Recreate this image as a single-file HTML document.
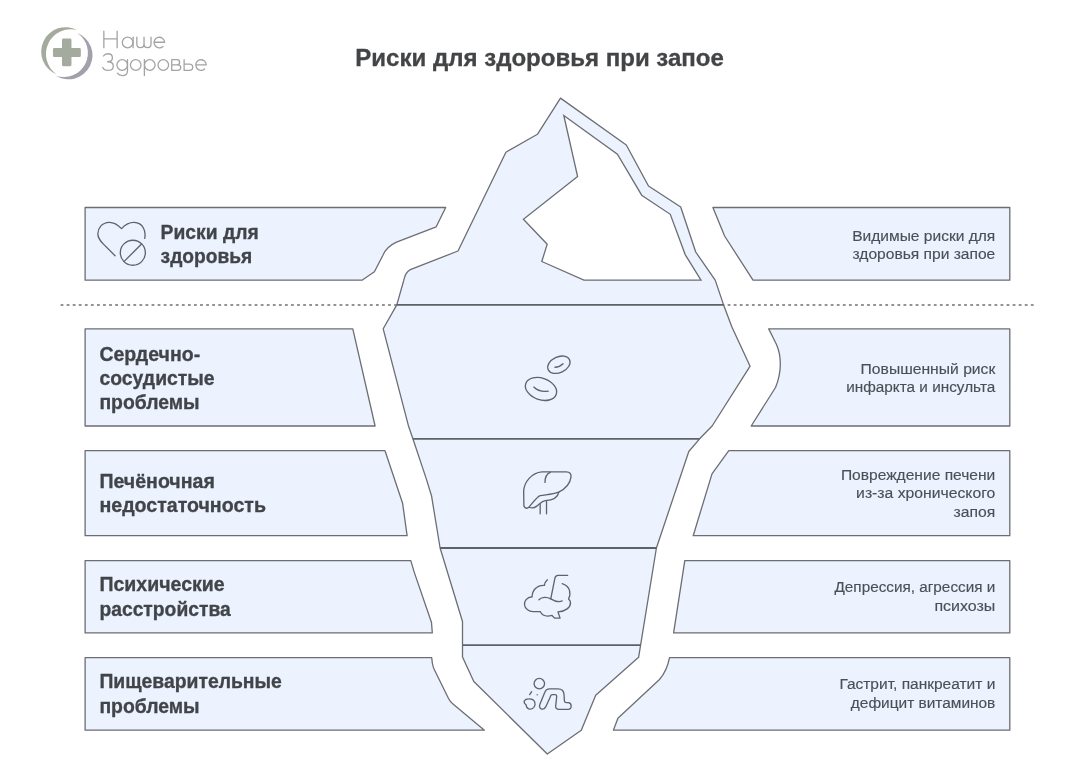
<!DOCTYPE html>
<html lang="ru">
<head>
<meta charset="utf-8">
<title>Риски для здоровья при запое</title>
<style>
  html, body { margin: 0; padding: 0; background: #ffffff; }
  body { width: 1066px; height: 768px; overflow: hidden; font-family: "Liberation Sans", sans-serif; }
  svg { display: block; position: absolute; left: 0; top: 0; will-change: transform; opacity: 0.9999; filter: blur(0.3px); }
  .sh { fill: #ecf2fe; stroke: #6c6e73; stroke-width: 1.3; stroke-linejoin: round; }
  .ln { fill: none; stroke: #5e6267; stroke-width: 1.8; }
  .ic { fill: none; stroke: #5f636a; stroke-width: 15.5; stroke-linecap: round; stroke-linejoin: round; }
  text { font-family: "Liberation Sans", sans-serif; }
  .title { font-weight: bold; font-size: 24.6px; fill: #434446; stroke: #434446; stroke-width: 0.3px; }
  .lb { font-weight: bold; font-size: 19.6px; fill: #414449; stroke: #414449; stroke-width: 0.3px; }
  .ds { font-size: 15.5px; fill: #4b4f56; stroke: #4b4f56; stroke-width: 0.15px; text-anchor: end; }
  .logo { font-size: 22px; fill: #9a9a9a; }
</style>
</head>
<body>
<svg width="1066" height="768" viewBox="0 0 1066 768">

  <!-- ===== water line (dotted) ===== -->
  <line x1="60.6" y1="305" x2="1035" y2="305" stroke="#929395" stroke-width="2" stroke-dasharray="2.8 3.264"/>

  <!-- ===== iceberg ===== -->
  <!-- full silhouette -->
  <path class="sh" d="M560.5 98.1 L537.4 134.3 L505.9 152.2 L458 251 L410.3 269.6 Q405.5 272 403.8 280.2 L396.8 304.9 L383.2 328.8 L408.4 425.7 L412.9 438.8 L426.3 478.9 L431.5 495.7 L440.1 548 L462.5 621.5 L462.5 657 L473.8 681.5 L547.3 754 L581.3 730.2 L595.7 695.2 L638.6 657.3 L640.6 645.2 L656.4 548 L688.8 451.5 L699.6 438.8 L712.1 426 L750.1 366.2 L731.9 327.1 L723.6 304.9 L715.2 280.1 L695.7 252 L680.7 207 L648.5 186 L626.3 145 Z"/>
  <!-- white highlight -->
  <path d="M563.8 115.5 L577.6 176.6 L523.4 219.3 L547.2 244.2 L541.8 261.5 L583.9 280.1 L701 280.1 L685.2 254.6 L670.3 214.3 L641.7 195.2 L617.4 154.2 Z" fill="#ffffff" stroke="#6c6e73" stroke-width="1.3" stroke-linejoin="miter"/>
  <!-- separators -->
  <line class="ln" x1="396.8" y1="304.9" x2="723.6" y2="304.9"/>
  <line class="ln" x1="412.9" y1="438.8" x2="699.6" y2="438.8"/>
  <line class="ln" x1="440.1" y1="548" x2="656.4" y2="548"/>
  <line class="ln" x1="462.5" y1="645.2" x2="640.6" y2="645.2"/>

  <!-- ===== left boxes ===== -->
  <path class="sh" d="M85.1 207.5 L445.7 207.5 L436.2 226.8 L396.5 242.2 Q386 247 382.7 255.7 L374.4 271.8 L362 280.2 L85.1 280.2 Z"/>
  <path class="sh" d="M85.1 328.9 L352.8 328.9 L375.1 426 L85.1 426 Z"/>
  <path class="sh" d="M85.1 450.7 L385 450.7 L402.6 503.2 L407.1 535.7 L85.1 535.7 Z"/>
  <path class="sh" d="M85.1 560.6 L410.8 560.6 L414.2 572.1 L431.5 622.5 L432.3 632.9 L85.1 632.9 Z"/>
  <path class="sh" d="M85.1 657.7 L431.7 657.7 L432.4 663.5 Q433 667 434.5 670 L448.4 698.2 Q450 701.5 453 704 L484.4 730.2 L85.1 730.2 Z"/>

  <!-- ===== right boxes ===== -->
  <path class="sh" d="M712.9 207.5 L1009.8 207.5 L1009.8 280.2 L753 280.2 L724.6 236 Z"/>
  <path class="sh" d="M768.7 328.9 L1009.8 328.9 L1009.8 426 L751.2 426 L775.5 387.5 C782 372 781.5 356 776.5 344.5 Z"/>
  <path class="sh" d="M728.8 450.7 L1009.8 450.7 L1009.8 535.7 L693.2 535.7 L712 473.9 Z"/>
  <path class="sh" d="M684.8 560.6 L1009.8 560.6 L1009.8 632.9 L673.6 632.9 Z"/>
  <path class="sh" d="M669.5 657.7 L1009.8 657.7 L1009.8 730.2 L613.4 730.2 L617.9 718.3 L659.5 679.5 Q667 671 669.5 657.7 Z"/>

  <!-- ===== logo ===== -->
  <g transform="translate(35 20) scale(0.0885)">
    <!-- green crescent -->
    <path d="M477.4 113.8 A276.3 276.3 0 0 0 96.4 239 A276.3 276.3 0 0 0 241.7 612.8 A280.3 280.3 0 0 1 477.4 113.8 Z" fill="#a5aa9f"/>
    <!-- violet crescent -->
    <path d="M477.5 147 A270.8 270.8 0 0 1 621.1 521 A270.8 270.8 0 0 1 235.3 628.7 A271.7 271.7 0 0 0 477.5 147 Z" fill="#a2a1ab"/>
    <!-- cross -->
    <path d="M320 210 H397 Q412 210 412 225 V315 H503 Q518 315 518 330 V403 Q518 418 503 418 H412 V507 Q412 522 397 522 H320 Q305 522 305 507 V418 H218 Q203 418 203 403 V330 Q203 315 218 315 H305 V225 Q305 210 320 210 Z" fill="#a5aa9f"/>
  </g>
  <!-- logo wordmark (thin geometric strokes) -->
  <g transform="translate(98 22) scale(0.11257)" fill="none" stroke="#a3a3a3" stroke-width="11.5" stroke-linecap="round" stroke-linejoin="round">
    <!-- Наше -->
    <path d="M52 82 V228 M170 82 V228 M52 150 H170"/>
    <circle cx="263" cy="182" r="47"/><path d="M312 135 V228"/>
    <path d="M345 135 V196 Q345 228 377 228 Q409 228 409 196 V135 M409 196 Q409 228 440 228 Q471 228 471 196 V135"/>
    <path d="M499 180 H592 A47 47 0 1 0 577 217"/>
    <!-- Здоровье -->
    <path d="M48 302 Q60 282 90 282 Q128 282 128 318 Q128 353 86 353 Q136 353 136 392 Q136 430 88 430 Q54 430 42 404"/>
    <circle cx="215" cy="382" r="47"/><path d="M262 335 V432 Q262 476 216 476 Q186 476 172 455"/>
    <circle cx="335" cy="382" r="47"/>
    <path d="M412 335 V476"/><circle cx="460" cy="382" r="47"/>
    <circle cx="580" cy="382" r="47"/>
    <path d="M655 335 V430 M655 335 H701 Q725 335 725 357 Q725 380 701 380 H655 M701 380 H707 Q735 380 735 405 Q735 430 707 430 H655"/>
    <path d="M765 335 V430 H812 Q841 430 841 402 Q841 375 812 375 H765"/>
    <path d="M869 380 H962 A47 47 0 1 0 947 417"/>
  </g>

  <!-- ===== icon: heart + no sign ===== -->
  <g class="ic" transform="translate(85 210) scale(0.084656)">
    <path d="M705 335 C722 255 690 150 580 147 C520 146 470 180 432 220 C390 178 340 144 285 146 C200 150 150 215 152 285 C153 335 185 370 215 400 L355 540"/>
    <circle cx="565" cy="505" r="148"/>
    <path d="M463 607 L668 402"/>
  </g>

  <!-- ===== icon: blood cells ===== -->
  <g class="ic" transform="translate(508 345) scale(0.084656)">
    <ellipse cx="601" cy="233" rx="139" ry="93" transform="rotate(-25 601 233)"/>
    <path d="M555 263 Q610 262 650 222"/>
    <ellipse cx="390" cy="519" rx="191" ry="127" transform="rotate(20 390 519)"/>
    <path d="M305 497 Q365 560 475 546"/>
  </g>

  <!-- ===== icon: liver ===== -->
  <g class="ic" transform="translate(508 460) scale(0.084656)">
    <path d="M400 140 H690 Q748 142 745 200 C735 270 680 340 600 380 C520 410 440 408 380 420 C345 432 320 470 250 555 Q215 590 188 545 L185 370 C190 260 280 150 400 140 Z"/>
    <path d="M600 380 C590 440 530 475 440 480 C400 485 375 520 340 545 C310 568 280 572 250 558"/>
    <path d="M500 145 Q436 170 437 265"/>
    <path d="M380 520 V635 M455 490 V635"/>
  </g>

  <!-- ===== icon: brain ===== -->
  <g class="ic" transform="translate(508 565) scale(0.084656)">
    <path d="M465 175 Q436 200 430 240 C340 235 285 300 285 375 C220 380 190 430 195 470 C200 520 250 552 300 550 H380 C400 590 450 615 520 596 L550 628 H615 L590 553 C680 550 740 500 738 445 Q736 420 715 402 C745 340 740 250 640 220"/>
    <path d="M705 122 H590 Q560 122 553 160 L505 400"/>
    <path d="M365 410 C400 375 460 375 505 400 C550 428 600 440 640 425"/>
  </g>

  <!-- ===== icon: crawling person ===== -->
  <g class="ic" transform="translate(508 665) scale(0.084656)">
    <circle cx="370" cy="220" r="62"/>
    <path d="M435 322 Q450 282 490 282 H590 Q658 282 662 350 L666 420 Q668 445 690 445 H710 Q746 447 746 485 Q746 525 710 525 H605 Q560 525 563 485 L575 375 Q577 350 555 350 H525 Q505 350 498 380 L445 495 Q425 530 390 518 Q362 500 378 462 Z"/>
    <path d="M245 400 Q300 398 315 435 Q328 470 305 500 Q280 528 245 518 Q215 505 215 472 Q185 450 192 425 Q205 400 245 400 Z"/>
    <path d="M280 315 L256 350"/>
    <path d="M345 352 L346 353"/>
  </g>

  <!-- ===== title ===== -->
  <text class="title" x="355.3" y="66.2" textLength="368.6" lengthAdjust="spacingAndGlyphs">Риски для здоровья при запое</text>

  <!-- ===== left labels ===== -->
  <text class="lb" transform="translate(160.6 239.3) scale(0.985 1)">Риски для</text>
  <text class="lb" transform="translate(160.6 262.9) scale(0.98 1)">здоровья</text>

  <text class="lb" transform="translate(99.4 360.7) scale(0.997 1)">Сердечно-</text>
  <text class="lb" transform="translate(99.4 384.7) scale(0.989 1)">сосудистые</text>
  <text class="lb" transform="translate(99.4 408.7) scale(0.988 1)">проблемы</text>

  <text class="lb" transform="translate(99.4 488.4) scale(0.998 1)">Печёночная</text>
  <text class="lb" transform="translate(99.4 512.2) scale(1.0 1)">недостаточность</text>

  <text class="lb" transform="translate(99.4 591.3) scale(0.997 1)">Психические</text>
  <text class="lb" transform="translate(99.4 615.5) scale(0.985 1)">расстройства</text>

  <text class="lb" transform="translate(99.4 688.3) scale(0.988 1)">Пищеварительные</text>
  <text class="lb" transform="translate(99.4 712.6) scale(0.988 1)">проблемы</text>

  <!-- ===== right descriptions ===== -->
  <text class="ds" x="995.3" y="240.6" textLength="143.1" lengthAdjust="spacingAndGlyphs">Видимые риски для</text>
  <text class="ds" x="995.3" y="258.8" textLength="142.8" lengthAdjust="spacingAndGlyphs">здоровья при запое</text>

  <text class="ds" x="995.3" y="373.5" textLength="134.7" lengthAdjust="spacingAndGlyphs">Повышенный риск</text>
  <text class="ds" x="995.3" y="392.0" textLength="149.1" lengthAdjust="spacingAndGlyphs">инфаркта и инсульта</text>

  <text class="ds" x="995.3" y="479.5" textLength="154.4" lengthAdjust="spacingAndGlyphs">Повреждение печени</text>
  <text class="ds" x="995.3" y="498.4" textLength="139.2" lengthAdjust="spacingAndGlyphs">из-за хронического</text>
  <text class="ds" x="995.3" y="516.7" textLength="41.7" lengthAdjust="spacingAndGlyphs">запоя</text>

  <text class="ds" x="995.3" y="592.4" textLength="160.8" lengthAdjust="spacingAndGlyphs">Депрессия, агрессия и</text>
  <text class="ds" x="995.3" y="611.3" textLength="60.9" lengthAdjust="spacingAndGlyphs">психозы</text>

  <text class="ds" x="995.3" y="689.4" textLength="155.9" lengthAdjust="spacingAndGlyphs">Гастрит, панкреатит и</text>
  <text class="ds" x="995.3" y="708.3" textLength="144.5" lengthAdjust="spacingAndGlyphs">дефицит витаминов</text>

</svg>
</body>
</html>
